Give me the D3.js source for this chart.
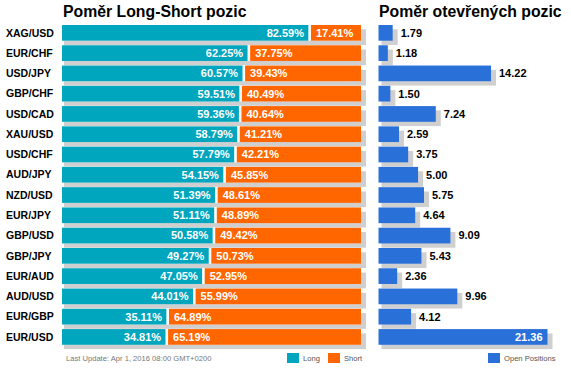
<!DOCTYPE html>
<html>
<head>
<meta charset="utf-8">
<script src="https://cdn.jsdelivr.net/npm/d3@7"></script>
<style>
  body { margin: 0; background: #fff; }
  svg { display: block; font-family: "Liberation Sans", Arial, sans-serif; }
</style>
</head>
<body>
<div id="chart"></div>
<script>
const pairs = ['XAG/USD', 'EUR/CHF', 'USD/JPY', 'GBP/CHF', 'USD/CAD', 'XAU/USD', 'USD/CHF', 'AUD/JPY',
  'NZD/USD', 'EUR/JPY', 'GBP/USD', 'GBP/JPY', 'EUR/AUD', 'AUD/USD', 'EUR/GBP', 'EUR/USD'];
const longPct = [82.59, 62.25, 60.57, 59.51, 59.36, 58.79, 57.79, 54.15, 51.39, 51.11, 50.58, 49.27, 47.05, 44.01, 35.11, 34.81];
const shortPct = [17.41, 37.75, 39.43, 40.49, 40.64, 41.21, 42.21, 45.85, 48.61, 48.89, 49.42, 50.73, 52.95, 55.99, 64.89, 65.19];
const openPos = [1.79, 1.18, 14.22, 1.50, 7.24, 2.59, 3.75, 5.00, 5.75, 4.64, 9.09, 5.43, 2.36, 9.96, 4.12, 21.36];

const W = 571, H = 372;
const TEAL = '#00a5be', ORANGE = '#ff6600', BLUE = '#2a70d9', SHADOW = '#cfcfcf';

const svg = d3.select('#chart').append('svg').attr('width', W).attr('height', H);

const y = d3.scaleBand().domain(pairs).range([25, 345]).paddingInner(0.215).paddingOuter(0);
const xL = d3.scaleLinear().domain([0, 100]).range([62, 361]);
const xR = d3.scaleLinear().domain([0, d3.max(openPos)]).range([378.5, 547.5]);
const bh = 15.7;

// titles
svg.append('text').attr('x', 63).attr('y', 17).style('font-size', '15.8px').style('font-weight', 700)
  .text('Poměr Long-Short pozic');
svg.append('text').attr('x', 379).attr('y', 17).style('font-size', '15.8px').style('font-weight', 700)
  .text('Poměr otevřených pozic');

// left chart
const rowsL = svg.append('g').selectAll('g').data(pairs).join('g')
  .attr('transform', d => `translate(0,${y(d)})`);

rowsL.append('rect').attr('x', 64).attr('y', 4.3).attr('width', 366 - 64).attr('height', bh).attr('fill', SHADOW);
rowsL.append('rect').attr('x', xL(0)).attr('y', 0).attr('width', xL(100) - xL(0)).attr('height', bh).attr('fill', '#fff');
rowsL.append('rect').attr('x', xL(0)).attr('y', 0)
  .attr('width', (d, i) => xL(longPct[i]) - 0.6 - xL(0)).attr('height', bh).attr('fill', TEAL);
rowsL.append('rect').attr('x', (d, i) => xL(longPct[i]) + 2).attr('y', 0)
  .attr('width', (d, i) => xL(100) - xL(longPct[i]) - 2).attr('height', bh).attr('fill', ORANGE);

rowsL.append('text').attr('x', 6).attr('y', bh / 2).attr('dy', '0.35em')
  .style('font-size', '10.5px').style('font-weight', 700).attr('fill', '#000').text(d => d);
rowsL.append('text').attr('x', (d, i) => xL(longPct[i]) - 5).attr('y', bh / 2).attr('dy', '0.35em')
  .attr('text-anchor', 'end').style('font-size', '11px').style('font-weight', 700).attr('fill', '#fff')
  .text((d, i) => longPct[i].toFixed(2) + '%');
rowsL.append('text').attr('x', (d, i) => xL(longPct[i]) + 7).attr('y', bh / 2).attr('dy', '0.35em')
  .style('font-size', '11px').style('font-weight', 700).attr('fill', '#fff')
  .text((d, i) => shortPct[i].toFixed(2) + '%');

// right chart
const rowsR = svg.append('g').selectAll('g').data(pairs).join('g')
  .attr('transform', d => `translate(0,${y(d)})`);

rowsR.append('rect').attr('x', xR(0) + 3).attr('y', 4.3)
  .attr('width', (d, i) => xR(openPos[i]) - xR(0) + 2).attr('height', bh).attr('fill', SHADOW);
rowsR.append('rect').attr('x', xR(0)).attr('y', 0)
  .attr('width', (d, i) => xR(openPos[i]) - xR(0)).attr('height', bh).attr('fill', BLUE);
rowsR.append('text')
  .attr('x', (d, i) => openPos[i] > 18 ? xR(openPos[i]) - 5 : xR(openPos[i]) + 8)
  .attr('text-anchor', (d, i) => openPos[i] > 18 ? 'end' : 'start')
  .attr('y', bh / 2).attr('dy', '0.35em')
  .style('font-size', '11px').style('font-weight', 700)
  .attr('fill', (d, i) => openPos[i] > 18 ? '#fff' : '#000')
  .text((d, i) => openPos[i].toFixed(2));

// footer
svg.append('text').attr('x', 66).attr('y', 361).style('font-size', '7.6px').attr('fill', '#777')
  .text('Last Update: Apr 1, 2016 08:00 GMT+0200');

const legend = [
  { label: 'Long', color: TEAL, x: 287 },
  { label: 'Short', color: ORANGE, x: 328 },
  { label: 'Open Positions', color: BLUE, x: 488 }
];
const lg = svg.append('g').selectAll('g').data(legend).join('g')
  .attr('transform', d => `translate(${d.x},353)`);
lg.append('rect').attr('width', 12).attr('height', 10).attr('fill', d => d.color);
lg.append('text').attr('x', 16).attr('y', 5).attr('dy', '0.35em')
  .style('font-size', '7.6px').attr('fill', '#555').text(d => d.label);
</script>
</body>
</html>
